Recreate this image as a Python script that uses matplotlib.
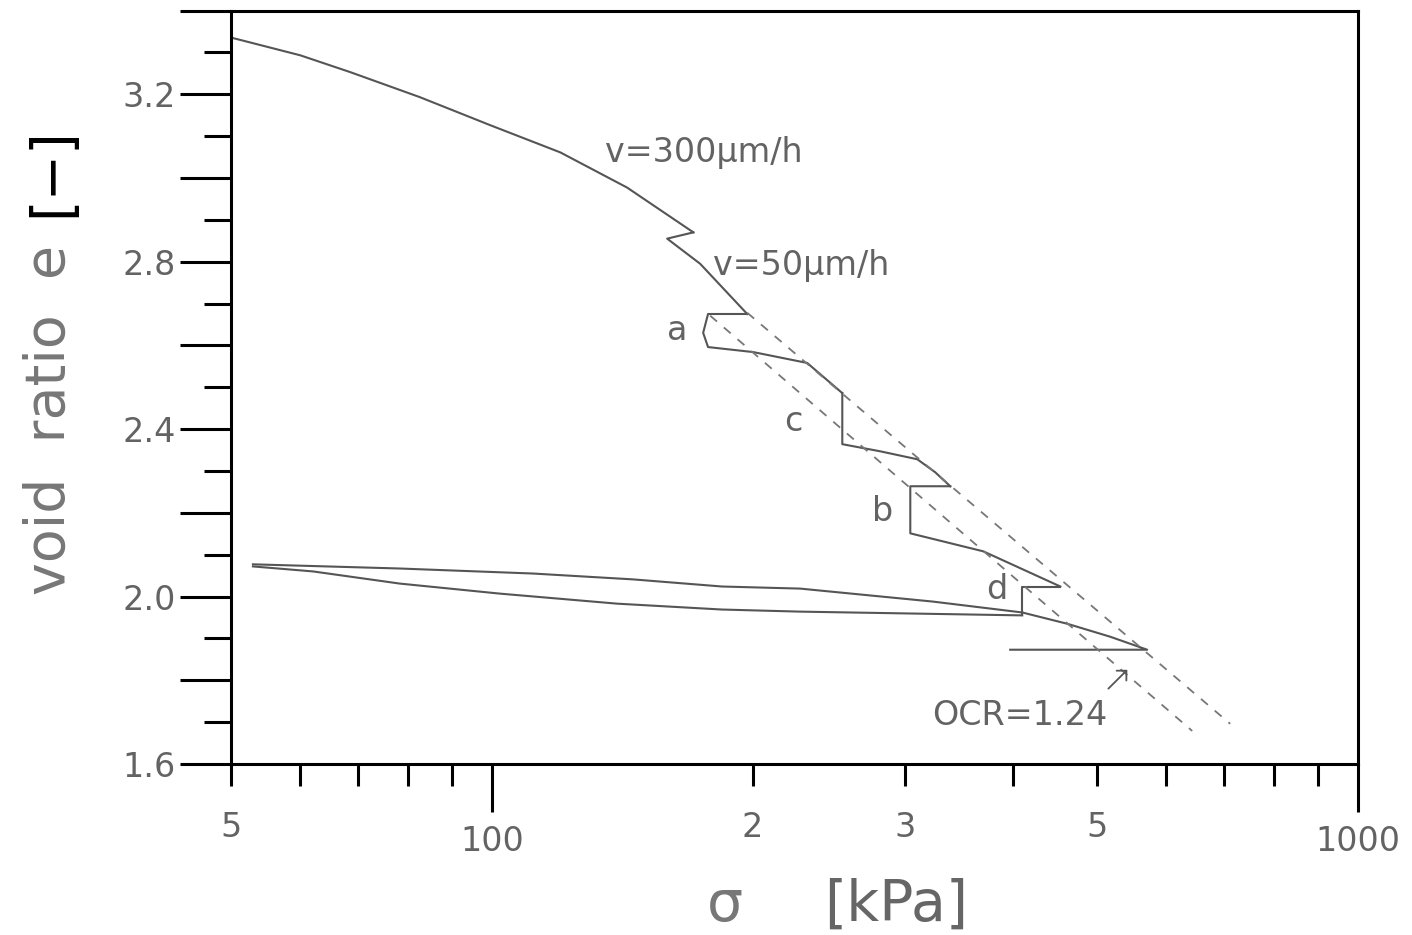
import numpy as np
import matplotlib
matplotlib.use('Agg')
import matplotlib.pyplot as plt
from matplotlib.ticker import FixedLocator, FixedFormatter

plt.rcParams['font.family'] = ['DejaVu Sans']

# CRS test, v=300 um/h then v=50 um/h
sigma_300 = [50.3, 60.1, 68.6, 82.6, 99.6, 120.0, 143.3, 170.9]
e_300 = [3.334, 3.293, 3.253, 3.193, 3.126, 3.061, 2.977, 2.870]
sigma_50 = [170.9, 159.4, 174.0, 197.2]
e_50 = [2.870, 2.855, 2.795, 2.675]

# step a (relaxation + creep) and reload
sigma_a = [197.2, 177.7, 175.4, 177.7, 200.4, 231.3, 253.9]
e_a = [2.675, 2.675, 2.630, 2.596, 2.584, 2.558, 2.486]
# step c
sigma_c = [253.9, 253.9, 280.8, 309.9, 325.0, 338.3]
e_c = [2.486, 2.364, 2.347, 2.328, 2.297, 2.2635]
# step b
sigma_b = [338.3, 304.2, 304.2, 369.4, 453.3]
e_b = [2.2635, 2.2635, 2.151, 2.108, 2.024]
# step d
sigma_d = [453.3, 409.6, 409.6]
e_d = [2.024, 2.024, 1.955]

# unloading / reloading loop
sigma_unl = [409.6, 227.0, 184.4, 139.6, 102.2, 78.3, 62.2, 53.0]
e_unl = [1.955, 1.964, 1.969, 1.983, 2.007, 2.031, 2.060, 2.072]
sigma_rel = [53.0, 78.3, 111.6, 145.6, 184.4, 227.0, 323.0, 409.6]
e_rel = [2.077, 2.067, 2.055, 2.041, 2.024, 2.019, 1.988, 1.962]
sigma_end = [409.6, 461.7, 517.6, 571.0, 396.7]
e_end = [1.962, 1.935, 1.904, 1.873, 1.873]

# normal compression lines (dashed)
sigma_ncl1 = [197.2, 712.0]
e_ncl1 = [2.678, 1.696]
sigma_ncl2 = [178.7, 643.6]
e_ncl2 = [2.671, 1.679]

x_major = [100, 1000]
x_major_labels = ['100', '1000']
x_minor = [50, 60, 70, 80, 90, 200, 300, 400, 500, 600, 700, 800, 900]
x_minor_labels = ['5', '', '', '', '', '2', '3', '', '5', '', '', '', '']
y_major = list(np.round(np.arange(1.6, 3.41, 0.2), 1))
y_major_labels = ['1.6', '', '2.0', '', '2.4', '', '2.8', '', '3.2', '']
y_minor = list(np.round(np.arange(1.7, 3.31, 0.2), 1))

txt = '#636363'
line = '#555555'

fig = plt.figure(figsize=(14.12, 9.35), dpi=100)
ax = fig.add_axes([231 / 1412, 1 - 764 / 935, (1358 - 231) / 1412, (764 - 10.5) / 935])

kw = dict(color=line, lw=1.5)
for s, e in [(sigma_300, e_300), (sigma_50, e_50), (sigma_a, e_a), (sigma_c, e_c),
             (sigma_b, e_b), (sigma_d, e_d), (sigma_unl, e_unl), (sigma_rel, e_rel),
             (sigma_end, e_end)]:
    ax.plot(s, e, **kw)

ax.plot(sigma_ncl1, e_ncl1, color='#777777', lw=1.3, dashes=(5, 5))
ax.plot(sigma_ncl2, e_ncl2, color='#777777', lw=1.3, dashes=(5, 5))

ax.set_xscale('log')
ax.set_xlim(50, 1000)
ax.set_ylim(1.6, 3.4)

ax.xaxis.set_major_locator(FixedLocator(x_major))
ax.xaxis.set_major_formatter(FixedFormatter(x_major_labels))
ax.xaxis.set_minor_locator(FixedLocator(x_minor))
ax.xaxis.set_minor_formatter(FixedFormatter(x_minor_labels))
ax.yaxis.set_major_locator(FixedLocator(y_major))
ax.yaxis.set_major_formatter(FixedFormatter(y_major_labels))
ax.yaxis.set_minor_locator(FixedLocator(y_minor))

for sp in ax.spines.values():
    sp.set_linewidth(2.2)
    sp.set_color('black')

ax.tick_params(axis='x', which='major', direction='out', length=34.6, width=2.2,
               labelsize=24, labelcolor=txt, pad=9)
ax.tick_params(axis='x', which='minor', direction='out', length=15.8, width=2.2,
               labelsize=24, labelcolor=txt, pad=18)
ax.tick_params(axis='y', which='major', direction='out', length=36.7, width=2.2,
               labelsize=24, labelcolor=txt, pad=3)
ax.tick_params(axis='y', which='minor', direction='out', length=19.4, width=2.2)

fs = 24
ax.text(135.2, 3.061, 'v=300μm/h', fontsize=fs, color=txt, ha='left', va='center')
ax.text(180.1, 2.790, 'v=50μm/h', fontsize=fs, color=txt, ha='left', va='center')
ax.text(163.6, 2.635, 'a', fontsize=fs, color=txt, ha='center', va='center')
ax.text(222.8, 2.417, 'c', fontsize=fs, color=txt, ha='center', va='center')
ax.text(283.0, 2.204, 'b', fontsize=fs, color=txt, ha='center', va='center')
ax.text(382.3, 2.017, 'd', fontsize=fs, color=txt, ha='center', va='center')
ax.text(322.5, 1.715, 'OCR=1.24', fontsize=fs, color=txt, ha='left', va='center')
ax.annotate('', xy=(541.6, 1.825), xytext=(515.0, 1.780),
            arrowprops=dict(arrowstyle='->,head_length=0.5,head_width=0.5',
                            color=line, lw=1.3, shrinkA=0, shrinkB=0))

# axis labels
fig.text(50 / 1412, 1 - 420 / 935, 'void  ratio  e', rotation=90, fontsize=40,
         color='#777777', ha='center', va='center')
fig.text(52 / 1412, 1 - 172 / 935, '[−]', rotation=90, fontsize=40,
         color='black', ha='center', va='center')
fig.text(725 / 1412, 1 - 906 / 935, 'σ', fontsize=41, color='#777777',
         ha='center', va='center')
fig.text(896 / 1412, 1 - 905 / 935, '[kPa]', fontsize=41, color='#666666',
         ha='center', va='center')

fig.savefig('out.png', dpi=100)
